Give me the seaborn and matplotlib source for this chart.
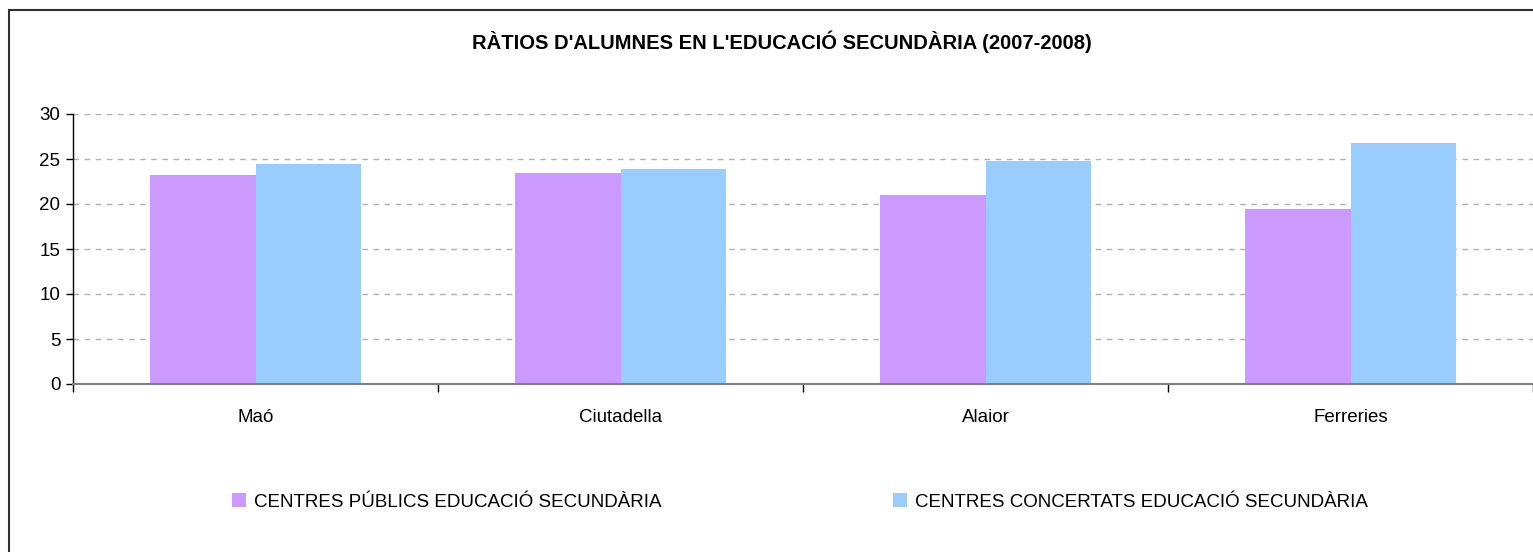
import pandas as pd
import numpy as np
import matplotlib
matplotlib.use("Agg")
import matplotlib.pyplot as plt
import seaborn as sns
from matplotlib.patches import Rectangle

# data
municipis = ["Maó", "Ciutadella", "Alaior", "Ferreries"]
publics = [23.25, 23.5, 21.0, 19.5]
concertats = [24.4, 23.9, 24.8, 26.8]
series = ["CENTRES PÚBLICS EDUCACIÓ SECUNDÀRIA", "CENTRES CONCERTATS EDUCACIÓ SECUNDÀRIA"]
colors = ["#CC99FF", "#99CCFF"]
yticks = [0, 5, 10, 15, 20, 25, 30]

df = pd.DataFrame({
    "municipi": municipis * 2,
    "ratio": publics + concertats,
    "tipus": [series[0]] * 4 + [series[1]] * 4,
})

sns.set_style("white")
plt.rcParams['font.family'] = ['Liberation Sans', 'DejaVu Sans']
plt.rcParams['text.color'] = 'black'
plt.rcParams['xtick.color'] = 'black'
plt.rcParams['ytick.color'] = 'black'

W, H = 1533, 552
fig = plt.figure(figsize=(W / 100, H / 100), dpi=100)
ax = fig.add_axes([73 / W, 1 - 384 / H, (W - 73) / W, (384 - 114) / H])

sns.barplot(data=df, x="municipi", y="ratio", hue="tipus", palette=colors,
            width=0.58, gap=0, saturation=1, ax=ax, edgecolor="none")
ax.get_legend().remove()

ax.set_xlim(-0.5, 3.5)
ax.set_ylim(0, 30)
ax.set_yticks(yticks)
ax.set_xlabel("")
ax.set_ylabel("")
ax.yaxis.grid(True, linestyle=(0, (4, 4)), color="#b0b0b0", linewidth=1)
ax.set_axisbelow(True)

for s in ["top", "right"]:
    ax.spines[s].set_visible(False)
ax.spines["left"].set_color("black")
ax.spines["left"].set_linewidth(1)
ax.spines["bottom"].set_color("#808080")
ax.spines["bottom"].set_linewidth(1.5)

ax.tick_params(axis="y", which="major", left=True, length=5, width=1, color="black",
               labelsize=13.5, pad=4, labelcolor="black")
ax.tick_params(axis="x", which="major", bottom=False, length=0, labelsize=13.5, pad=18,
               labelcolor="black")
ax.set_xticks(np.arange(-0.5, 4.0, 1.0), minor=True)
ax.tick_params(axis="x", which="minor", bottom=True, length=6, width=1, color="black")

fig.text(782 / W, 1 - 42 / H, "RÀTIOS D'ALUMNES EN L'EDUCACIÓ SECUNDÀRIA (2007-2008)",
         ha="center", va="center", fontsize=14.5, fontweight="bold", color="black")

# legend entries
handles, labels = ax.get_legend_handles_labels()
for h, lab, x0 in zip(handles, labels, [232, 893]):
    leg = fig.legend([h], [lab], loc="center left", bbox_to_anchor=(x0 / W, 1 - 502 / H),
                     frameon=False, borderpad=0, borderaxespad=0, handlelength=0.75,
                     handleheight=0.75, handletextpad=0.4, fontsize=13.5)
    for t in leg.get_texts():
        t.set_color("black")

# outer chart frame
fig.add_artist(Rectangle((9 / W, -0.05), 1.1, 1 - 10 / H + 0.05, transform=fig.transFigure,
                         fill=False, edgecolor="#303030", linewidth=1.5))

fig.savefig("out.png", dpi=100)
